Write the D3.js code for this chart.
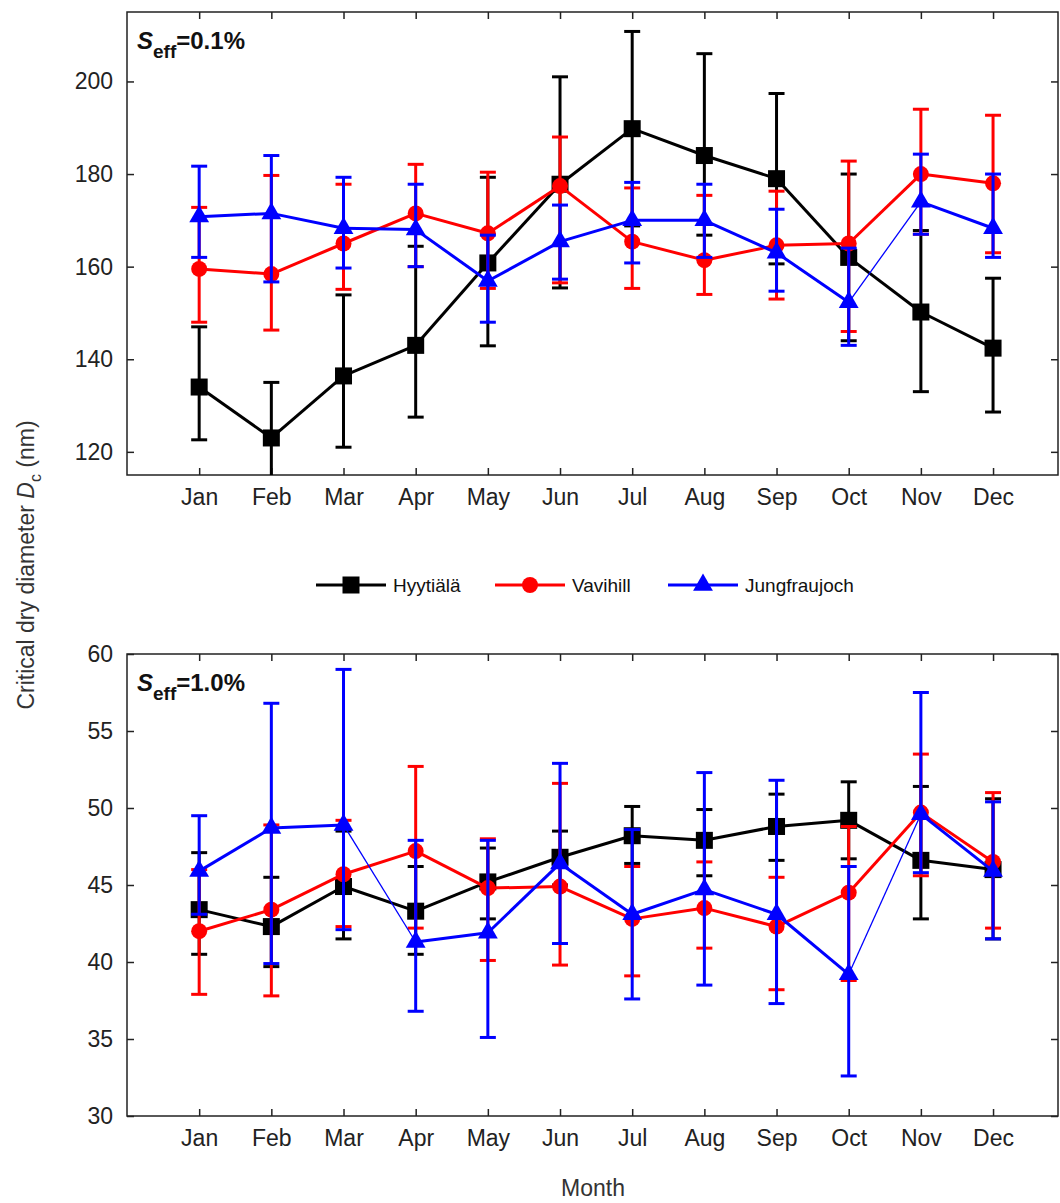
<!DOCTYPE html>
<html><head><meta charset="utf-8">
<script src="https://cdn.jsdelivr.net/npm/d3@7"></script>
<style>body{margin:0;background:#fff}svg{font-family:Arial,"Liberation Sans",sans-serif}</style>
</head><body><svg id="c" width="1060" height="1203"></svg>
<script>
const months=["Jan","Feb","Mar","Apr","May","Jun","Jul","Aug","Sep","Oct","Nov","Dec"];
const seriesNames=["Hyytiälä","Vavihill","Jungfraujoch"];
const seriesColors=["#000000","#ff0000","#0000ff"];
// Panel 1: S_eff = 0.1%
const hyy1=[134,123,136.4,143,160.8,177.8,189.8,184,179,162,150.2,142.4];
const hyy1Up=[147,135,153.9,164.4,179.3,201,210.8,206,197.4,180,167.8,157.5];
const hyy1Lo=[122.6,111,121,127.5,142.9,155.4,168.8,166.8,160.6,144,133,128.6];
const vav1=[159.5,158.4,165,171.5,167.2,177.4,165.4,161.4,164.6,165,180,178];
const vav1Up=[172.8,179.7,177.8,182.1,180.4,188,177,175.4,176.3,182.8,194,192.7];
const vav1Lo=[148,146.3,155.1,160,155.3,156.5,155.3,154,153,146,167,163];
const jun1=[170.8,171.5,168.3,168,156.9,165.4,170,170,163,152.3,174,168.3];
const jun1Up=[181.7,184,179.3,177.8,166.8,173.3,178.2,177.8,172.4,164,184.3,180];
const jun1Lo=[162,156.7,159.7,160,148,157.3,160.8,162,154.7,143,167,162];
// Panel 2: S_eff = 1.0%
const hyy2=[43.4,42.3,44.9,43.3,45.2,46.8,48.2,47.9,48.8,49.2,46.6,46];
const hyy2Up=[47.1,45.5,48.5,46.2,47.4,48.5,50.1,49.9,50.9,51.7,51.4,50.6];
const hyy2Lo=[40.5,39.7,41.5,40.5,42.8,45,46.4,45.6,46.6,46.7,42.8,41.5];
const vav2=[42,43.4,45.7,47.2,44.8,44.9,42.8,43.5,42.3,44.5,49.7,46.5];
const vav2Up=[46,48.9,49.2,52.7,48,51.6,46.2,46.5,45.5,48.8,53.5,51];
const vav2Lo=[37.9,37.8,42.3,42.2,40.1,39.8,39.1,40.9,38.2,38.8,45.6,42.2];
const jun2=[45.9,48.7,48.9,41.3,41.9,46.4,43.1,44.7,43.1,39.2,49.6,45.9];
const jun2Up=[49.5,56.8,59,47.9,47.9,52.9,48.6,52.3,51.8,46.2,57.5,50.4];
const jun2Lo=[43.1,39.9,42.1,36.8,35.1,41.2,37.6,38.5,37.3,32.6,45.8,41.5];
const ticks1=[120,140,160,180,200];
const ticks2=[30,35,40,45,50,55,60];
const thin1=[9];   // Jungfraujoch segments drawn thin (start index)
const thin2=[2,9];

const svg=d3.select("#c");
const L=127,R=1058;
const x=d3.scaleLinear().domain([0,12.9]).range([L,R]);
const panels=[
 {top:12,bot:475,dom:[115,215],ticks:ticks1,label:"=0.1%",thin:thin1,
  s:[[hyy1,hyy1Up,hyy1Lo],[vav1,vav1Up,vav1Lo],[jun1,jun1Up,jun1Lo]]},
 {top:654,bot:1116,dom:[30,60],ticks:ticks2,label:"=1.0%",thin:thin2,
  s:[[hyy2,hyy2Up,hyy2Lo],[vav2,vav2Up,vav2Lo],[jun2,jun2Up,jun2Lo]]}
];
panels.forEach(p=>{
  const y=d3.scaleLinear().domain(p.dom).range([p.bot,p.top]);
  const g=svg.append("g");
  const clip="clip"+p.top;
  svg.append("clipPath").attr("id",clip).append("rect").attr("x",L).attr("y",p.top).attr("width",R-L).attr("height",p.bot-p.top);
  const ax=g.append("g").attr("transform",`translate(${L},0)`).call(d3.axisLeft(y).tickValues(p.ticks).tickSize(-7).tickPadding(14));
  const axr=g.append("g").attr("transform",`translate(${R},0)`).call(d3.axisRight(y).tickValues(p.ticks).tickSize(-7).tickFormat(""));
  const axb=g.append("g").attr("transform",`translate(0,${p.bot})`).call(d3.axisBottom(x).tickValues(d3.range(1,13)).tickSize(-7).tickPadding(14).tickFormat(d=>months[d-1]));
  const axt=g.append("g").attr("transform",`translate(0,${p.top})`).call(d3.axisTop(x).tickValues(d3.range(1,13)).tickSize(-7).tickFormat(""));
  [ax,axr,axb,axt].forEach(a=>{a.selectAll(".domain").remove();a.selectAll("line").attr("stroke","#222").attr("stroke-width",1.5);a.selectAll("text").attr("font-size",23).attr("fill","#222").attr("font-family","Arial,'Liberation Sans',sans-serif");});
  g.append("rect").attr("x",L).attr("y",p.top).attr("width",R-L).attr("height",p.bot-p.top).attr("fill","none").attr("stroke","#222").attr("stroke-width",1.5);
  const t=g.append("text").attr("x",137).attr("y",p.top+37).attr("font-size",24).attr("font-weight","bold").attr("fill","#111");
  t.append("tspan").attr("font-style","italic").text("S");
  t.append("tspan").attr("dy",9).attr("font-size",19).text("eff");
  t.append("tspan").attr("dy",-9).text(p.label);
  const pg=g.append("g").attr("clip-path",`url(#${clip})`);
  p.s.forEach((s,si)=>{
    const col=seriesColors[si];const [v,up,lo]=s;
    v.forEach((d,i)=>{
      const cx=x(i+1);
      pg.append("line").attr("x1",cx).attr("x2",cx).attr("y1",y(up[i])).attr("y2",y(lo[i])).attr("stroke",col).attr("stroke-width",3);
      [up[i],lo[i]].forEach(e=>pg.append("line").attr("x1",cx-8).attr("x2",cx+8).attr("y1",y(e)).attr("y2",y(e)).attr("stroke",col).attr("stroke-width",3));
    });
    for(let i=0;i<v.length-1;i++){
      const thin=si===2&&p.thin.includes(i);
      pg.append("line").attr("x1",x(i+1)).attr("y1",y(v[i])).attr("x2",x(i+2)).attr("y2",y(v[i+1])).attr("stroke",col).attr("stroke-width",thin?1.3:3);
    }
    v.forEach((d,i)=>drawMarker(pg,si,x(i+1),y(d)));
  });
});
function drawMarker(g,si,cx,cy){
  const col=seriesColors[si];
  if(si===0)g.append("rect").attr("x",cx-8.5).attr("y",cy-8.5).attr("width",17).attr("height",17).attr("fill",col);
  else if(si===1)g.append("circle").attr("cx",cx).attr("cy",cy).attr("r",8).attr("fill",col);
  else g.append("path").attr("d",d3.symbol(d3.symbolTriangle,170)()).attr("transform",`translate(${cx},${cy})`).attr("fill",col);
}
const lg=svg.append("g");
const lx=[316,495,668];
seriesNames.forEach((n,i)=>{
  lg.append("line").attr("x1",lx[i]).attr("x2",lx[i]+70).attr("y1",585).attr("y2",585).attr("stroke",seriesColors[i]).attr("stroke-width",3);
  drawMarker(lg,i,lx[i]+35,585);
  lg.append("text").attr("x",lx[i]+77).attr("y",592).attr("font-size",19).attr("fill","#111").text(n);
});
const yt=svg.append("text").attr("transform","translate(34,565) rotate(-90)").attr("text-anchor","middle").attr("font-size",23).attr("fill","#333");
yt.append("tspan").text("Critical dry diameter ");
yt.append("tspan").attr("font-style","italic").text("D");
yt.append("tspan").attr("dy",7).attr("font-size",16).text("c");
yt.append("tspan").attr("dy",-7).text(" (nm)");
svg.append("text").attr("x",593).attr("y",1196).attr("text-anchor","middle").attr("font-size",23).attr("fill","#333").text("Month");
</script></body></html>
